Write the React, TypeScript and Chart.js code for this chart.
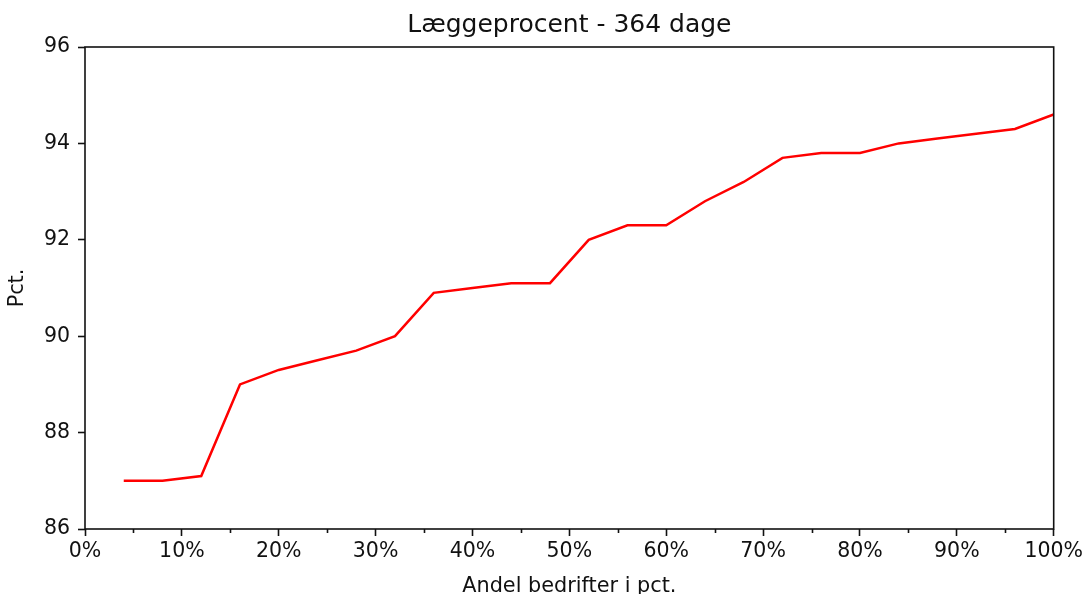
import React, { useEffect, useRef } from "react";
import { Chart, registerables } from "chart.js";

Chart.register(...registerables);

const title = "Læggeprocent - 364 dage";
const xLabel = "Andel bedrifter i pct.";
const yLabel = "Pct.";

const shareOfFarms = [4, 8, 12, 16, 20, 24, 28, 32, 36, 40, 44, 48, 52, 56, 60, 64, 68, 72, 76, 80, 84, 88, 92, 96, 100];
const layingPercent = [87.0, 87.0, 87.1, 89.0, 89.3, 89.5, 89.7, 90.0, 90.9, 91.0, 91.1, 91.1, 92.0, 92.3, 92.3, 92.8, 93.2, 93.7, 93.8, 93.8, 94.0, 94.1, 94.2, 94.3, 94.6];

const xMin = 0;
const xMax = 100;
const yMin = 86;
const yMax = 96;
const xMajorStep = 10;
const xMinorStep = 5;
const yStep = 2;

const FONT = "'DejaVu Sans', sans-serif";
const INK = "#111";

const framePlugin = {
  id: "mplFrame",
  afterDatasetsDraw(chart: any) {
    const { ctx, chartArea, scales } = chart;
    const xs = scales.x;
    ctx.save();
    ctx.strokeStyle = INK;
    ctx.lineWidth = 1.6;
    // minor ticks
    for (let v = xMin + xMinorStep; v < xMax; v += xMajorStep) {
      const px = Math.round(xs.getPixelForValue(v)) + 0.5;
      ctx.beginPath();
      ctx.moveTo(px, chartArea.bottom);
      ctx.lineTo(px, chartArea.bottom + 4);
      ctx.stroke();
    }
    ctx.strokeRect(chartArea.left, chartArea.top, chartArea.right - chartArea.left, chartArea.bottom - chartArea.top);
    ctx.restore();
  },
};

export default function App() {
  const ref = useRef<HTMLCanvasElement | null>(null);

  useEffect(() => {
    if (!ref.current) return;
    const chart = new Chart(ref.current, {
      type: "line",
      data: {
        datasets: [
          {
            label: title,
            data: shareOfFarms.map((x, i) => ({ x, y: layingPercent[i] })),
            borderColor: "#ff0000",
            backgroundColor: "#ff0000",
            borderWidth: 2.5,
            pointRadius: 0,
            tension: 0,
            fill: false,
          },
        ],
      },
      options: {
        responsive: false,
        animation: false,
        layout: { padding: { left: 0, right: 31, top: 0, bottom: 0 } },
        plugins: {
          legend: { display: false },
          tooltip: { enabled: false },
          title: {
            display: true,
            fullSize: false,
            text: title,
            color: INK,
            font: { family: FONT, size: 25, weight: "normal", lineHeight: 1.2 },
            padding: { top: 10, bottom: 7 },
          },
        },
        scales: {
          x: {
            type: "linear",
            min: xMin,
            max: xMax,
            afterFit: (s: any) => {
              s.height = 65;
            },
            ticks: {
              stepSize: xMinorStep,
              autoSkip: false,
              maxRotation: 0,
              padding: 3,
              color: INK,
              font: { family: FONT, size: 20.5 },
              callback: (v: any) => (Number(v) % xMajorStep === 0 ? `${v}%` : ""),
            },
            grid: {
              drawOnChartArea: false,
              drawTicks: true,
              tickLength: 7,
              tickWidth: 1.6,
              tickColor: (c: any) => (c.tick && Number(c.tick.value) % xMajorStep === 0 ? INK : "rgba(0,0,0,0)"),
            },
            border: { display: false },
            title: {
              display: true,
              text: xLabel,
              color: INK,
              font: { family: FONT, size: 20.8, lineHeight: 0.72 },
              padding: { top: 0, bottom: 0 },
            },
          },
          y: {
            type: "linear",
            min: yMin,
            max: yMax,
            afterFit: (s: any) => {
              s.width = 85;
            },
            ticks: {
              stepSize: yStep,
              padding: 8,
              color: INK,
              font: { family: FONT, size: 20.5 },
            },
            grid: {
              drawOnChartArea: false,
              drawTicks: true,
              tickLength: 7,
              tickWidth: 1.6,
              tickColor: INK,
            },
            border: { display: false },
            title: {
              display: true,
              text: yLabel,
              color: INK,
              font: { family: FONT, size: 20.8, lineHeight: 1.2 },
              padding: { top: 5, bottom: 0 },
            },
          },
        },
      },
      plugins: [framePlugin],
    } as any);
    return () => chart.destroy();
  }, []);

  return (
    <div style={{ position: "fixed", left: 0, top: 0, width: 1086, height: 594, background: "#fff" }}>
      <canvas ref={ref} width={1086} height={594} style={{ display: "block", width: 1086, height: 594 }} />
    </div>
  );
}
